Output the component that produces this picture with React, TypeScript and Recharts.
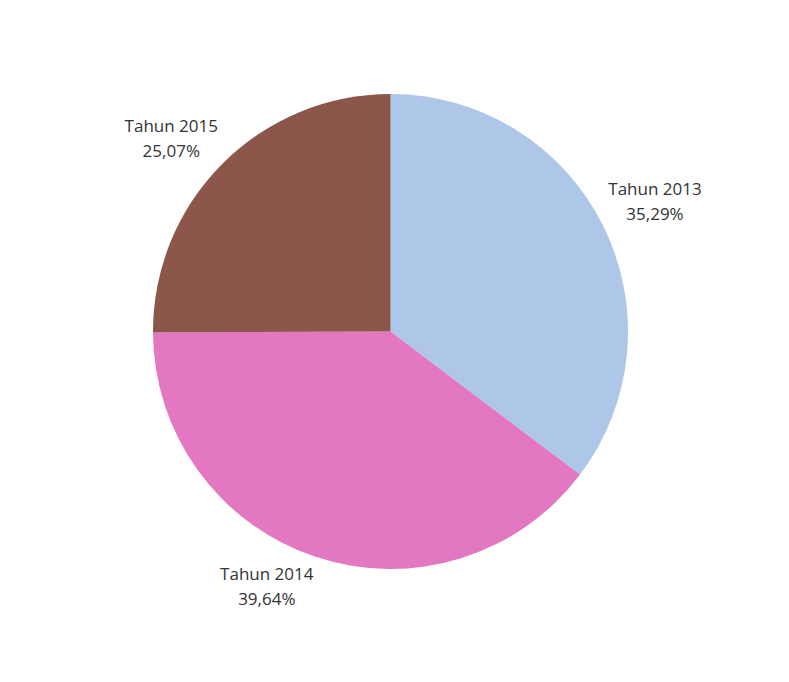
import React from 'react';
import { PieChart, Pie, Cell } from 'recharts';

const categories = ['Tahun 2013', 'Tahun 2014', 'Tahun 2015'];
const shares = [35.29, 39.64, 25.07];
const colors = ['#aec7e8', '#e377c2', '#8c564b'];

const data = categories.map((name, i) => ({ name, value: shares[i] }));

const RADIAN = Math.PI / 180;

// label box sits just outside the slice, its nearest corner at the mid angle
const renderLabel = (props: any) => {
  const { cx, cy, midAngle, outerRadius, index, name, value } = props;
  const r = outerRadius + 5.5;
  const ax = cx + r * Math.cos(-midAngle * RADIAN);
  const ay = cy + r * Math.sin(-midAngle * RADIAN);
  const half = (name.length * 9.4) / 2;
  const x = ax >= cx ? ax + half : ax - half;
  const first = ay < cy ? ay - 3.5 - 24.5 : ay + 18;
  return (
    <text
      x={x}
      y={first}
      textAnchor="middle"
      fill="#333"
      fontFamily="Open Sans"
      fontSize={17}
      key={`lbl-${index}`}
    >
      <tspan x={x} y={first}>{name}</tspan>
      <tspan x={x} y={first + 24.5}>{value.toFixed(2).replace('.', ',')}%</tspan>
    </text>
  );
};

export default function App() {
  return (
    <div style={{ width: 789, height: 682, margin: -8, background: '#fff' }}>
      <PieChart width={789} height={682} margin={{ top: 0, right: 0, bottom: 0, left: 0 }}>
        <Pie
          data={data}
          dataKey="value"
          nameKey="name"
          cx={390.5}
          cy={331.5}
          outerRadius={237.5}
          startAngle={90}
          endAngle={-270}
          stroke="none"
          label={renderLabel}
          labelLine={false}
          isAnimationActive={false}
        >
          {data.map((d, i) => (
            <Cell key={d.name} fill={colors[i]} />
          ))}
        </Pie>
      </PieChart>
    </div>
  );
}
